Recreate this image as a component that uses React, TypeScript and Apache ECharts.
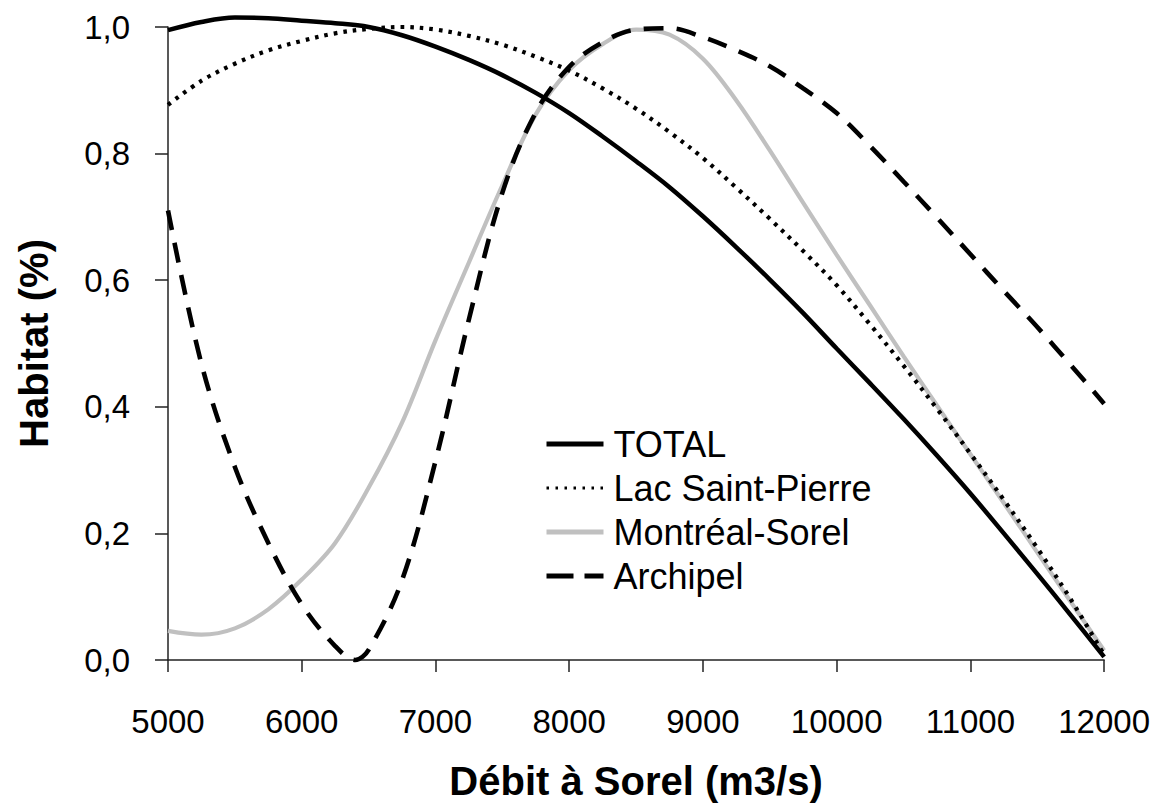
import React, { useEffect, useRef } from "react";
import * as echarts from "echarts";

// Débit à Sorel (m3/s)
const flows = [
  5000, 5250, 5500, 5750, 6000, 6250, 6500, 6750, 7000, 7250, 7500, 7750, 8000, 8250, 8500,
  8750, 9000, 9250, 9500, 9750, 10000, 10250, 10500, 10750, 11000, 11250, 11500, 11750, 12000,
];

const total = [
  0.995, 1.008, 1.015, 1.014, 1.01, 1.006, 1.0, 0.987, 0.969, 0.948, 0.924, 0.896, 0.864, 0.827,
  0.788, 0.747, 0.701, 0.652, 0.601, 0.548, 0.492, 0.437, 0.381, 0.323, 0.263, 0.2, 0.136, 0.071,
  0.005,
];

const lacSaintPierre = [
  0.877, 0.915, 0.942, 0.963, 0.978, 0.99, 0.997, 1.0, 0.996, 0.986, 0.972, 0.953, 0.931, 0.903,
  0.871, 0.834, 0.793, 0.746, 0.697, 0.646, 0.592, 0.53, 0.465, 0.397, 0.326, 0.253, 0.177, 0.096,
  0.008,
];

const montrealSorel = [
  0.046, 0.04, 0.05, 0.08, 0.127, 0.185, 0.272, 0.375, 0.505, 0.628, 0.75, 0.862, 0.932, 0.973,
  0.996, 0.988, 0.95, 0.884, 0.805, 0.722, 0.64, 0.56, 0.48, 0.402, 0.325, 0.248, 0.17, 0.092,
  0.015,
];

const archipelFlows = [
  5000, 5250, 5500, 5750, 6000, 6250, 6400, 6500, 6750, 7000, 7250, 7500, 7750, 8000, 8250,
  8500, 8750, 9000, 9250, 9500, 9750, 10000, 10250, 10500, 10750, 11000, 11250, 11500, 11750, 12000,
];

const archipel = [
  0.71, 0.468, 0.305, 0.185, 0.088, 0.022, 0.0, 0.016, 0.126, 0.314, 0.538, 0.738, 0.865, 0.937,
  0.976, 0.996, 0.998, 0.984, 0.963, 0.938, 0.903, 0.864, 0.812, 0.756, 0.699, 0.641, 0.583, 0.526,
  0.466, 0.405,
];

const seriesNames = ["TOTAL", "Lac Saint-Pierre", "Montréal-Sorel", "Archipel"];

const FONT = '"Liberation Sans", Arial, Helvetica, sans-serif';

function pairs(xs: number[], ys: number[]) {
  return xs.map((x, i) => [x, ys[i]]);
}

export default function App() {
  const ref = useRef<HTMLDivElement>(null);

  useEffect(() => {
    if (!ref.current) return;
    const chart = echarts.init(ref.current, null, { renderer: "svg" });

    const totalStyle = { color: "#000", width: 4.5, type: "solid" };
    const lacStyle = { color: "#000", width: 4.2, type: [3.6, 6] };
    const montrealStyle = { color: "#c0c0c0", width: 4.2, type: "solid" };
    const archipelStyle = { color: "#000", width: 4.6, type: [20, 13] };

    const common = {
      type: "line",
      smooth: 0.35,
      showSymbol: false,
      symbol: "none",
      clip: false,
    };

    chart.setOption({
      animation: false,
      backgroundColor: "#ffffff",
      grid: { left: 168, right: 48, top: 27, bottom: 146, containLabel: false },
      xAxis: {
        type: "value",
        min: 5000,
        max: 12000,
        interval: 1000,
        name: "Débit à Sorel (m3/s)",
        nameLocation: "middle",
        nameGap: 101,
        nameTextStyle: { fontFamily: FONT, fontSize: 40, fontWeight: "bold", color: "#000" },
        axisLine: { lineStyle: { color: "#222", width: 1.5 } },
        axisTick: { show: true, inside: false, length: 12, lineStyle: { color: "#222", width: 1.5 } },
        axisLabel: {
          fontFamily: FONT,
          fontSize: 33,
          color: "#000",
          margin: 45,
          formatter: (v: number) => String(v),
        },
        splitLine: { show: false },
      },
      yAxis: {
        type: "value",
        min: 0,
        max: 1,
        interval: 0.2,
        name: "Habitat (%)",
        nameLocation: "middle",
        nameGap: 114,
        nameTextStyle: { fontFamily: FONT, fontSize: 40, fontWeight: "bold", color: "#000" },
        axisLine: { show: true, lineStyle: { color: "#222", width: 1.5 } },
        axisTick: { show: true, inside: false, length: 13, lineStyle: { color: "#222", width: 1.5 } },
        axisLabel: {
          fontFamily: FONT,
          fontSize: 33,
          color: "#000",
          margin: 38,
          formatter: (v: number) => v.toFixed(1).replace(".", ","),
        },
        splitLine: { show: false },
      },
      legend: {
        orient: "vertical",
        left: 544,
        top: 426,
        padding: 0,
        itemWidth: 57,
        itemHeight: 14,
        itemGap: 8,
        selectedMode: false,
        itemStyle: { opacity: 0 },
        textStyle: { fontFamily: FONT, fontSize: 36, color: "#000", lineHeight: 36, padding: [0, 0, 0, 5] },
        data: [
          { name: seriesNames[0], lineStyle: { ...totalStyle, width: 5 } },
          { name: seriesNames[1], lineStyle: { ...lacStyle, width: 3, type: [2.5, 6.5] } },
          { name: seriesNames[2], lineStyle: { ...montrealStyle, width: 5 } },
          { name: seriesNames[3], lineStyle: { ...archipelStyle, width: 5, type: [27, 11] } },
        ],
      },
      series: [
        {
          ...common,
          name: seriesNames[0],
          data: pairs(flows, total),
          z: 4,
          itemStyle: { color: "#000" },
          lineStyle: totalStyle,
        },
        {
          ...common,
          name: seriesNames[1],
          data: pairs(flows, lacSaintPierre),
          z: 3,
          itemStyle: { color: "#000" },
          lineStyle: lacStyle,
        },
        {
          ...common,
          name: seriesNames[2],
          data: pairs(flows, montrealSorel),
          z: 2,
          itemStyle: { color: "#c0c0c0" },
          lineStyle: montrealStyle,
        },
        {
          ...common,
          name: seriesNames[3],
          data: pairs(archipelFlows, archipel),
          z: 5,
          itemStyle: { color: "#000" },
          lineStyle: archipelStyle,
        },
      ],
    });

    return () => chart.dispose();
  }, []);

  return (
    <div
      ref={ref}
      style={{ position: "fixed", left: 0, top: 0, width: 1153, height: 806, background: "#fff" }}
    />
  );
}
